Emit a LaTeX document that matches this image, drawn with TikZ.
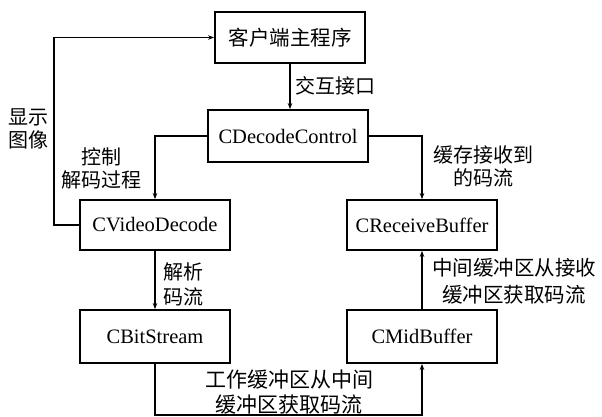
\documentclass[tikz,border=0pt]{standalone}
\usepackage{fontspec}
\setmainfont{Liberation Serif}
\newfontfamily\cjk{Noto Sans CJK SC}
\usetikzlibrary{arrows.meta}
\begin{document}
\begin{tikzpicture}[x=1pt,y=-1pt,
  box/.style={draw,line width=1.8pt,inner sep=0pt,minimum width=150pt,font=\fontsize{20.5}{24}\selectfont},
  conn/.style={line width=1.3pt},
  arr/.style={conn,-{Stealth[length=6pt,width=4.5pt]}},
  lab/.style={font=\cjk\fontsize{20}{23}\selectfont,align=center,inner sep=0pt}]
\useasboundingbox[fill=white] (0,0) rectangle (602,417);
% boxes
\node[box,minimum height=51pt] (main) at (290,37.5) {\cjk 客户端主程序};
\node[box,minimum width=160pt,minimum height=52pt] (dc) at (288,136) {CDecodeControl};
\node[box,minimum height=50pt] (vd) at (155,225) {CVideoDecode};
\node[box,minimum height=50pt] (rb) at (422,225) {CReceiveBuffer};
\node[box,minimum height=53pt] (bs) at (155,336.5) {CBitStream};
\node[box,minimum height=53pt] (mb) at (422,336.5) {CMidBuffer};
% free corners
\coordinate (fb) at (54,225);
\coordinate (bl) at (155,415);
% connectors
\draw[arr] (main.south) -- (main.south |- dc.north);
\draw[arr] (dc.west) -| (vd.north);
\draw[arr] (dc.east) -| (rb.north);
\draw[arr] (vd.south) -- (bs.north);
\draw[arr] (mb.north) -- (rb.south);
\draw[arr] (bs.south) -- (bl) -| (mb.south);
\draw[arr] (vd.west) -- (fb) |- (main.west);
% labels
\node[lab] (l1) at (335,86) {交互接口};
\node[lab] (l2) at (29,129) {显示\\图像};
\node[lab] (l3) at (101,168) {控制\\解码过程};
\node[lab] (l4) at (483,166) {缓存接收到\\的码流};
\node[lab,font=\cjk\fontsize{20}{25}\selectfont] (l5) at (183,284) {解析\\码流};
\node[lab,font=\cjk\fontsize{20.5}{27}\selectfont] (l6) at (514,281) {中间缓冲区从接收\\缓冲区获取码流};
\node[lab,font=\cjk\fontsize{21}{25}\selectfont] (l7) at (289,392) {工作缓冲区从中间\\缓冲区获取码流};
\end{tikzpicture}
\end{document}
